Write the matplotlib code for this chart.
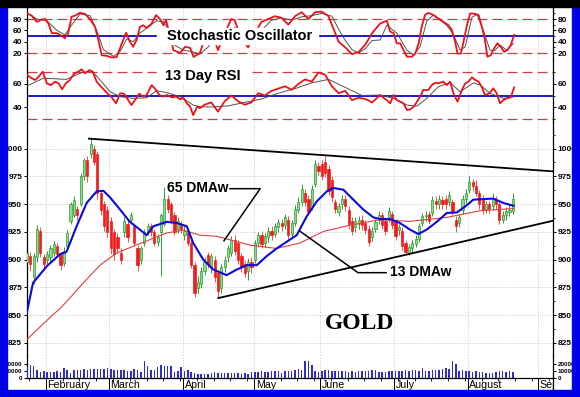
import matplotlib
matplotlib.use('Agg')
import matplotlib.pyplot as plt
from matplotlib.patches import Rectangle
from matplotlib.lines import Line2D
from matplotlib.transforms import Bbox, TransformedBbox
import numpy as np

plt.rcParams['font.family'] = ['Liberation Sans', 'DejaVu Sans']
plt.rcParams['font.weight'] = 'bold'

# ---- daily gold candles (trading-day index 0 = late January 2009) ----
opens = [898, 903, 884, 902, 926, 902, 900, 902, 906, 912,
         905, 897, 912, 935, 940, 946, 950, 975, 990, 995,
         1000, 995, 960, 950, 945, 935, 925, 920, 906, 925,
         932, 936, 930, 910, 900, 915, 925, 930, 925, 916,
         925, 932, 955, 950, 940, 928, 932, 922, 925, 915,
         895, 874, 878, 890, 904, 893, 900, 888, 874, 893,
         902, 906, 918, 915, 903, 896, 890, 898, 900, 915,
         922, 915, 920, 926, 923, 929, 933, 931, 936, 923,
         933, 945, 952, 960, 955, 948, 968, 984, 986, 988,
         982, 972, 952, 943, 950, 955, 945, 935, 929, 932,
         936, 933, 928, 920, 928, 936, 940, 935, 938, 941,
         934, 927, 926, 915, 906, 910, 914, 919, 933, 939,
         941, 942, 953, 950, 954, 955, 952, 952, 936, 933,
         945, 955, 963, 970, 966, 960, 955, 946, 950, 948,
         954, 950, 936, 940, 943, 944]
closes = [906, 896, 903, 928, 906, 896, 905, 910, 914, 905,
          895, 908, 924, 950, 954, 940, 975, 990, 975, 1004,
          988, 960, 945, 930, 925, 910, 905, 910, 900, 935,
          920, 940, 915, 895, 910, 925, 930, 925, 915, 920,
          940, 955, 946, 935, 925, 935, 928, 926, 915, 895,
          870, 880, 890, 898, 896, 903, 884, 872, 893, 900,
          910, 918, 908, 900, 893, 888, 898, 893, 915, 922,
          914, 921, 926, 922, 930, 934, 930, 938, 922, 933,
          946, 952, 964, 952, 943, 964, 986, 980, 975, 978,
          962, 956, 946, 948, 955, 948, 932, 926, 935, 936,
          931, 927, 916, 926, 934, 940, 931, 926, 944, 931,
          921, 929, 912, 907, 911, 915, 919, 930, 939, 940,
          935, 954, 950, 955, 950, 950, 958, 944, 930, 938,
          955, 960, 970, 966, 960, 950, 945, 950, 946, 955,
          950, 936, 940, 944, 945, 955]
highs = [915, 907, 906, 931, 929, 905, 908, 913, 917, 915,
         907, 911, 927, 952, 957, 948, 978, 992, 993, 1010,
         1003, 998, 963, 953, 948, 938, 928, 924, 910, 938,
         936, 943, 933, 913, 912, 928, 933, 933, 928, 923,
         942, 965, 958, 952, 943, 938, 935, 930, 928, 918,
         898, 885, 893, 902, 907, 906, 903, 891, 896, 903,
         913, 921, 922, 918, 906, 899, 901, 902, 918, 925,
         926, 924, 929, 930, 933, 937, 937, 941, 939, 936,
         949, 956, 968, 964, 958, 967, 990, 988, 990, 993,
         985, 975, 955, 951, 958, 958, 948, 938, 938, 939,
         940, 936, 931, 929, 937, 944, 943, 938, 947, 944,
         937, 932, 929, 918, 914, 918, 922, 933, 942, 944,
         944, 957, 957, 958, 957, 958, 962, 955, 939, 941,
         958, 964, 975, 973, 972, 963, 958, 953, 953, 960,
         957, 952, 944, 947, 949, 960]
lows = [890, 890, 878, 898, 902, 892, 896, 898, 903, 902,
        891, 894, 910, 932, 938, 936, 948, 972, 970, 992,
        985, 955, 940, 926, 920, 905, 900, 906, 896, 920,
        916, 932, 912, 890, 896, 912, 922, 921, 912, 912,
        885, 930, 942, 932, 922, 924, 924, 918, 912, 892,
        866, 870, 874, 886, 892, 888, 880, 865, 870, 889,
        898, 903, 904, 896, 889, 884, 882, 888, 897, 911,
        910, 911, 916, 918, 920, 925, 926, 928, 918, 920,
        930, 942, 948, 948, 940, 945, 965, 976, 972, 974,
        958, 952, 942, 939, 946, 944, 928, 922, 925, 928,
        927, 923, 912, 917, 925, 932, 928, 922, 934, 928,
        918, 922, 909, 904, 904, 907, 911, 916, 930, 935,
        932, 939, 946, 946, 946, 946, 948, 940, 925, 929,
        941, 951, 960, 962, 957, 946, 941, 942, 942, 945,
        946, 932, 933, 936, 939, 941]
volume_k = [15.2, 19.0, 16.7, 11.9, 8.1, 9.5, 8.1, 8.1, 8.1, 10.5,
            8.6, 14.3, 11.9, 7.1, 11.9, 10.9, 10.9, 13.3, 10.9, 13.3,
            13.3, 13.3, 12.9, 12.4, 14.3, 13.3, 10.9, 10.9, 11.9, 11.9,
            10.5, 10.5, 13.3, 10.9, 8.6, 23.8, 16.7, 10.9, 10.9, 15.2,
            19.0, 17.6, 16.7, 16.7, 8.6, 9.5, 15.2, 10.5, 11.9, 8.1,
            7.1, 5.7, 4.8, 5.7, 5.7, 6.7, 7.6, 6.7, 6.7, 6.7,
            7.1, 7.1, 6.7, 6.7, 5.7, 6.7, 5.7, 7.6, 8.6, 7.6,
            10.5, 8.6, 7.6, 9.5, 9.5, 9.5, 7.1, 9.5, 10.5, 9.5,
            11.9, 13.3, 11.9, 23.8, 23.8, 19.0, 9.5, 8.6, 9.5, 10.9,
            10.9, 9.5, 9.5, 10.5, 9.5, 10.5, 8.6, 9.5, 8.6, 9.5,
            9.5, 9.5, 9.5, 10.9, 11.9, 8.6, 8.6, 8.1, 9.5, 9.5,
            9.5, 10.5, 9.5, 11.9, 10.5, 11.9, 10.9, 9.5, 14.3, 9.5,
            9.5, 10.9, 11.9, 11.9, 13.3, 14.3, 13.3, 23.8, 20.0, 10.5,
            10.9, 10.5, 9.5, 8.6, 10.5, 8.6, 8.1, 7.1, 6.7, 7.1,
            8.1, 9.5, 9.5, 8.6, 9.5, 8.6]

# ---- moving averages ----
ma13_x = [0, 1.8, 5.9, 9.9, 11.8, 14.8, 17.8, 20.8, 22.8, 24.8,
          27.8, 30.7, 33.7, 35.7, 37.7, 41.7, 44.7, 47.7, 49.6, 52.6,
          55.6, 59.6, 62.6, 65.6, 68.6, 71.5, 74.5, 77.5, 80.5, 83.5,
          86.5, 89.5, 91.4, 94.4, 97.4, 100.4, 103.4, 105.4, 108.4, 111.3,
          114.3, 116.8, 119.3, 122.3, 125.3, 128.3, 131.3, 133.2, 136.2, 139.2,
          142.2, 145.2]
ma13 = [853, 879, 894, 905, 907, 930, 951, 961.5, 962, 956,
        945, 934, 927, 922, 930, 934, 933, 930, 915, 900,
        891, 886, 891, 895, 895, 903, 910, 916, 922, 939,
        952.5, 961.5, 964.5, 963, 954, 945, 938, 936.5, 936.5, 933,
        927, 923, 927, 934, 942, 942.5, 949, 954, 954.5, 955,
        951, 948.5]
ma65_x = [0, 6.9, 9.9, 11.8, 16.8, 21.8, 26.8, 31.7, 36.7, 41.7,
          46.7, 51.6, 56.6, 61.6, 66.6, 74.5, 81.5, 88.5, 96.4, 105.4,
          114.3, 125.3, 135.2, 145.2]
ma65 = [828, 848, 856, 862, 879, 895, 906, 912, 918, 924,
        926.5, 922, 921, 917, 913, 910, 915, 925.4, 931, 936,
        934.4, 938, 944, 946]

# ---- trend lines ----
upper_trend_x = [18.5, 157]
upper_trend = [1009, 979.5]
lower_trend_x = [57.1, 157]
lower_trend = [865.3, 935]

# ---- stochastic oscillator ----
stk_x = [0, 1.4, 2.9, 4.4, 5.4, 6.4, 7.4, 8.9, 10.4, 11.3,
         12.3, 13.3, 14.3, 15.8, 17.3, 18.8, 20.3, 21.3, 22.3, 23.8,
         25.3, 26.8, 28.3, 29.6, 30.7, 31.7, 32.7, 33.7, 34.7, 35.7,
         37.2, 38.5, 39.7, 40.7, 41.5, 42.5, 43.7, 45.7, 47.2, 48.7,
         49.7, 51.6, 53, 55, 57, 59, 61, 62, 64, 66,
         68, 70, 72, 74, 76, 78, 80, 82, 84, 86,
         88, 90, 91, 93, 95, 97, 99, 101, 103, 105.4,
         107.4, 108.4, 109.4, 110.4, 111.4, 112.4, 113.4, 114.9, 115.9, 116.9,
         117.8, 118.8, 119.8, 121.3, 122.8, 124.3, 125.8, 126.8, 127.8, 128.5,
         129.5, 130.3, 131.3, 132.3, 133.8, 134.8, 135.8, 136.7, 137.4, 138.4,
         139.4, 140.4, 141.4, 142.4, 143.4, 144.4, 145.4]
stk = [90, 86, 75, 79, 80, 72, 55, 55, 50, 46,
       55, 84, 86, 91, 89, 80, 66, 43, 16, 15,
       12, 13, 37, 56, 40, 31, 43, 66, 69, 64,
       72, 87, 80, 69, 78, 55, 25, 20, 31, 29,
       13, 20, 45, 60, 25, 55, 80, 78, 45, 30,
       55, 75, 80, 85, 82, 70, 85, 92, 80, 92,
       93, 85, 70, 40, 30, 18, 22, 35, 55, 72,
       77, 58, 55, 37, 37, 25, 13.5, 13.5, 19, 37,
       66, 87, 91, 87, 81, 75, 69, 61, 40, 19,
       19, 40, 69, 90, 89, 87, 66, 43, 13.5, 16,
       28, 37, 31, 22, 25, 34, 52]
std_x = [0, 2.9, 5.9, 8.9, 11.3, 13.3, 15.8, 18.8, 20.8, 22.8,
         25.8, 27.8, 29.8, 31.7, 33.7, 36.2, 38.7, 40.7, 42.2, 43.7,
         46.7, 49.7, 51.6, 54, 56, 58, 60, 62, 64, 66,
         68, 70, 73, 76, 79, 82, 85, 88, 91, 93,
         95, 97, 99, 101, 103, 105.4, 107.4, 110.4, 113.4, 115.4,
         117.3, 119.3, 121.3, 125.3, 127.3, 129.3, 130.8, 132.8, 134.3, 136.2,
         138.2, 139.7, 141.2, 143.2, 145.2]
std = [91, 80, 77, 60, 52, 69, 89, 86, 60, 26,
       14, 23, 45, 40, 55, 66, 77, 75, 62, 35,
       25, 22, 18, 30, 48, 40, 45, 65, 62, 45,
       42, 60, 78, 82, 78, 84, 86, 90, 85, 62,
       42, 26, 20, 28, 42, 43, 69, 55, 25, 16,
       31, 76, 87, 69, 52, 25, 31, 83, 88, 60,
       25, 25, 34, 25, 37]

# ---- 13 day RSI ----
rsi_x = [0, 1.4, 2.4, 3.4, 4.7, 5.9, 7.1, 8.4, 9.4, 10.5,
         11.6, 12.8, 14.0, 15.3, 16.3, 17.3, 18.6, 19.6, 20.8, 22.3,
         23.8, 25.3, 26.6, 27.8, 29.0, 30.2, 31.2, 32.2, 33.5, 34.7,
         35.7, 37.2, 38.2, 39.5, 40.7, 41.7, 43.2, 44.5, 45.7, 46.7,
         47.7, 48.7, 49.6, 50.8, 51.6, 53, 55, 57, 59, 61,
         63, 65, 67, 69, 71, 73, 75, 77, 79, 81,
         83, 85, 87, 89, 91, 93, 95, 97, 99, 101,
         103, 105.4, 106.4, 107.4, 108.4, 109.4, 110.4, 111.4, 112.4, 113.4,
         114.4, 115.4, 116.4, 117.3, 118.3, 119.8, 120.8, 121.8, 122.8, 124.3,
         125.3, 126.3, 127.3, 128.5, 129.8, 130.8, 131.8, 132.8, 133.8, 134.8,
         135.8, 136.7, 138.0, 139.2, 140.2, 141.2, 142.2, 143.2, 144.4, 145.4]
rsi = [67.8, 65, 63.5, 66, 70.7, 60.6, 59, 62, 60.6, 55.4,
       60.6, 63.5, 68.7, 70.7, 72.7, 69.3, 72, 70.7, 62, 57,
       52.5, 48.4, 43.2, 51.9, 51.5, 46, 41.7, 46, 51.5, 49,
       50.5, 59, 56, 50.5, 49, 50.5, 48.4, 49, 46.7, 48,
       43.2, 40.3, 33, 40.3, 39, 42, 44, 36, 45, 50,
       45, 42, 44, 52, 50, 54, 56, 58, 55, 60,
       64, 62, 70, 68, 58, 52, 54, 46, 48, 47,
       44, 50.4, 48, 46, 43.2, 50.4, 46, 44.6, 43.2, 37.4,
       38, 40.3, 44.6, 48.8, 54.8, 54.8, 59, 61, 60.6, 62,
       59, 62, 51.9, 44.6, 54.8, 60.6, 62, 65.8, 63.5, 62,
       57, 50.4, 51.9, 56.2, 51.9, 43.2, 46, 47.5, 48.4, 57]
rsi_avg_x = [0, 4.9, 11.8, 15.8, 19.3, 21.8, 24.8, 27.8, 31.7, 35.7,
             38.7, 41.7, 45.7, 49.6, 51.6, 55, 60, 65, 70, 75,
             80, 85, 90, 95, 100, 105.4, 109.4, 113.4, 116.4, 119.3,
             122.8, 126.3, 129.3, 133.3, 135.3, 138.2, 142.2, 145.2]
rsi_avg = [58.3, 65, 64, 69.3, 71.6, 63.5, 53.3, 49, 47.5, 48,
           54.2, 52.5, 49, 41.7, 40.3, 40, 41, 44, 47, 52,
           56, 61, 64, 57, 50, 50.4, 47.5, 41.7, 40.8, 47.5,
           57.7, 61, 53.3, 61, 59, 51.9, 47.5, 48.8]

months = ['February', 'March', 'April', 'May', 'June', 'July', 'August', 'Sep']
month_pos = [5.67, 24.5, 46.6, 67.8, 87.5, 109.6, 131.6, 152.5]
price_ticks = [825, 850, 875, 900, 925, 950, 975, 1000]

W, H = 580, 397
fig = plt.figure(figsize=(W / 100, H / 100), dpi=100)
fig.patch.set_facecolor('white')

def fx(x):
    return x / W

def fy(y):
    return 1 - y / H

# blue frame and black top band
blue = '#0000e6'
for r in [(0, 0, 7, H), (572, 0, 8, H), (0, 390, W, 7)]:
    fig.patches.append(Rectangle((fx(r[0]), fy(r[1] + r[3])), r[2] / W, r[3] / H,
                                 transform=fig.transFigure, color=blue, zorder=0))
fig.patches.append(Rectangle((0, fy(7)), 1, 7 / H, transform=fig.transFigure,
                             color='black', zorder=0))

XL, XR = 27, 553

def make_ax(top, bottom):
    ax = fig.add_axes([fx(XL), fy(bottom), fx(XR) - fx(XL), fy(top) - fy(bottom)])
    ax.set_facecolor('none')
    ax.set_xlim(0, 157)
    for s in ['top', 'bottom']:
        ax.spines[s].set_visible(False)
    for s in ['left', 'right']:
        ax.spines[s].set_linewidth(0.9)
    ax.tick_params(axis='x', bottom=False, labelbottom=False)
    ax.tick_params(axis='y', which='major', left=True, right=True, labelleft=True,
                   labelright=True, direction='out', length=2.5, width=0.7,
                   pad=1, labelsize=6)
    for m in month_pos:
        ax.axvline(m, color='#b8b8b8', lw=0.6, ls=(0, (1, 2)), zorder=1)
    return ax

ax_st = make_ax(7.7, 59.8)
ax_rsi = make_ax(59.8, 122)
ax_p = make_ax(122, 355)
ax_v = make_ax(355, 377.7)

red_line = '#e8141c'
dash_red = '#d83a3a'
line_blue = '#1a1acc'

# stochastic panel
ax_st.set_ylim(8, 100)
ax_st.set_yticks([20, 40, 60, 80])
ax_st.set_yticks([30, 50, 70, 90], minor=True)
ax_st.tick_params(axis='y', which='minor', left=False, right=True, length=1.5, width=0.6)
for lv in [20, 80]:
    ax_st.axhline(lv, color=dash_red, lw=0.9, ls=(0, (8, 4)), zorder=2)
ax_st.axhline(50, color=line_blue, lw=1.4, zorder=2)
ax_st.plot(std_x, std, color='#505050', lw=0.7, zorder=3)
ax_st.plot(stk_x, stk, color=red_line, lw=1.3, zorder=4)
ax_st.add_patch(Rectangle((38.8, 35.9), 48.1, 28.2, color='white', zorder=5))
ax_st.text(41.8, 50, 'Stochastic Oscillator', fontsize=10.5, va='center', ha='left', zorder=6)

# RSI panel
ax_rsi.set_ylim(27, 81)
ax_rsi.set_yticks([40, 60])
ax_rsi.set_yticks([30, 50, 70], minor=True)
ax_rsi.tick_params(axis='y', which='minor', left=False, right=True, length=1.5, width=0.6)
for lv in [30, 70]:
    ax_rsi.axhline(lv, color=dash_red, lw=0.9, ls=(0, (8, 4)), zorder=2)
ax_rsi.axhline(50, color=line_blue, lw=1.4, zorder=2)
ax_rsi.plot(rsi_avg_x, rsi_avg, color='#505050', lw=0.7, zorder=3)
ax_rsi.plot(rsi_x, rsi, color=red_line, lw=1.3, zorder=4)
ax_rsi.add_patch(Rectangle((38.8, 61.3), 27.8, 12, color='white', zorder=5))
ax_rsi.text(41.2, 67, '13 Day RSI', fontsize=10.5, va='center', ha='left', zorder=6)

# price panel
ax_p.set_ylim(814, 1024)
ax_p.set_yticks(price_ticks)
ax_p.set_yticks(np.arange(837.5, 1020, 25), minor=True)
ax_p.tick_params(axis='y', which='minor', left=False, right=True, length=1.5, width=0.6)
for t in price_ticks:
    ax_p.axhline(t, color='#b8b8b8', lw=0.6, ls=(0, (1, 2)), zorder=1)

idx = np.arange(len(closes))
o = np.array(opens, float)
c = np.array(closes, float)
hi = np.array(highs, float)
lo = np.array(lows, float)
up = c >= o
ax_p.vlines(idx[up], lo[up], hi[up], color='#2f9a2f', lw=0.7, zorder=2)
ax_p.vlines(idx[~up], lo[~up], hi[~up], color='#f05050', lw=0.7, zorder=2)
ax_p.bar(idx[up], c[up] - o[up], bottom=o[up], width=0.65, color='#8fd88f',
         edgecolor='#2f9a2f', lw=0.5, zorder=3)
ax_p.bar(idx[~up], c[~up] - o[~up], bottom=o[~up], width=0.65, color='#ee1c1c',
         edgecolor='#ee1c1c', lw=0.5, zorder=3)
ax_p.plot(ma65_x, ma65, color='#e04040', lw=0.8, zorder=4)
ax_p.plot(ma13_x, ma13, color='#0a0ad8', lw=1.5, zorder=5)
ax_p.plot(upper_trend_x, upper_trend, color='black', lw=1.3, zorder=6)
ax_p.plot(lower_trend_x, lower_trend, color='black', lw=1.3, zorder=6)

ax_p.plot([60.6, 69.6, 58.8], [963.9, 963.9, 917.0], color='black', lw=1.1, zorder=6)
ax_p.text(41.8, 964.4, '65 DMAw', fontsize=10, va='center', ha='left', zorder=7)
ax_p.plot([81.5, 98.8, 107.2], [925.5, 888.2, 888.2], color='black', lw=1.1, zorder=6)
ax_p.text(108.4, 888.7, '13 DMAw', fontsize=10, va='center', ha='left', zorder=7)
ax_p.text(89, 842.3, 'GOLD', fontsize=17, fontfamily='Liberation Serif',
          fontweight='bold', va='center', ha='left', zorder=7)

# volume panel
ax_v.set_ylim(0, 33140)
ax_v.bar(idx, np.array(volume_k) * 1000, width=0.45, color='#2c2cd0', zorder=3)
ax_v.set_yticks([0, 10000, 20000])
ax_v.tick_params(axis='y', labelsize=4.5)
ax_v.spines['bottom'].set_visible(True)
ax_v.spines['bottom'].set_linewidth(0.9)
ax_v.set_xticks(month_pos)
ax_v.set_xticks(np.arange(0.67, 157, 5), minor=True)
ax_v.tick_params(axis='x', which='major', bottom=True, labelbottom=False,
                 direction='out', length=9.4, width=0.7)
ax_v.tick_params(axis='x', which='minor', bottom=True, direction='out',
                 length=2.2, width=0.6)

clip = TransformedBbox(Bbox([[0, 0], [fx(XR), 1]]), fig.transFigure)
for name, m in zip(months, month_pos):
    xpix = XL + m * (XR - XL) / 157 + 1.5
    t = fig.text(fx(xpix), fy(385.5), name, fontsize=7.7, fontweight='normal',
                 ha='left', va='center')
    t.set_clip_box(clip)
    t.set_clip_on(True)

fig.add_artist(Line2D([fx(XR), fx(XR)], [fy(390), fy(377.7)], color='black',
                      lw=0.9, transform=fig.transFigure))

fig.savefig('out.png', dpi=100, facecolor=fig.get_facecolor())
